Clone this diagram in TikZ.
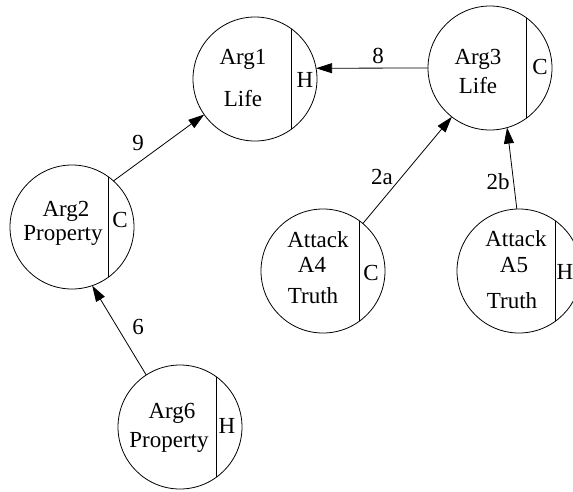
\documentclass[tikz,border=0pt]{standalone}
\usepackage{fontspec}
\setmainfont{Liberation Serif}
\usetikzlibrary{arrows.meta}
\begin{document}
\begin{tikzpicture}[x=1pt,y=-1pt,
  argnode/.style={circle,draw,line width=0.8pt,minimum size=124pt,inner sep=0pt,outer sep=0pt},
  txt/.style={anchor=base,inner sep=0pt,font=\fontsize{23}{27}\selectfont},
  edge/.style={draw,line width=0.8pt,-{Triangle[length=16pt,width=10pt]}},
  divider/.style={line width=0.8pt}]
\useasboundingbox (0,0) rectangle (573,491);

% argument circles
\node[argnode] (arg1) at (255,79) {};
\node[argnode] (arg3) at (490,68) {};
\node[argnode] (arg2) at (72,227) {};
\node[argnode] (a4) at (323,271) {};
\node[argnode] (a5) at (519,271) {};
\node[argnode] (arg6) at (180,427) {};

% dividers separating the side letter
\foreach \n in {arg1,arg3,arg2,a4,a5,arg6}
  \draw[divider] (\n.54.5) -- (\n.-54.5);

% texts
\node[txt] (arg1a) at (243,64) {Arg1};
\node[txt] (arg1b) at (243,106) {Life};
\node[txt] (arg1s) at (305,87) {H};

\node[txt] (arg3a) at (478,64) {Arg3};
\node[txt] (arg3b) at (478,93) {Life};
\node[txt] (arg3s) at (540,74) {C};

\node[txt] (arg2a) at (66,216) {Arg2};
\node[txt] (arg2b) at (63,240) {Property};
\node[txt] (arg2s) at (120,227) {C};

\node[txt] (a4a) at (318,247) {Attack};
\node[txt] (a4b) at (312,272) {A4};
\node[txt] (a4c) at (313,303) {Truth};
\node[txt] (a4s) at (371,280) {C};

\node[txt] (a5a) at (516,246) {Attack};
\node[txt] (a5b) at (514,272) {A5};
\node[txt] (a5c) at (512,308) {Truth};
\node[txt] (a5s) at (565,279) {H};

\node[txt] (arg6a) at (172,418) {Arg6};
\node[txt] (arg6b) at (169,447) {Property};
\node[txt] (arg6s) at (227,433) {H};

% attack edges
\draw[edge] (arg3.180) -- (arg1.10);
\draw[edge] (arg2.48) -- (arg1.215);
\draw[edge] (a4.50) -- (arg3.232);
\draw[edge] (a5.92) -- (arg3.286);
\draw[edge] (arg6.123) -- (arg2.-71);

% edge labels
\node[txt] (l8) at (378,63) {8};
\node[txt] (l9) at (138,150) {9};
\node[txt] (l2a) at (382,184) {2a};
\node[txt] (l2b) at (498,189) {2b};
\node[txt] (l6) at (138,334) {6};
\end{tikzpicture}
\end{document}
